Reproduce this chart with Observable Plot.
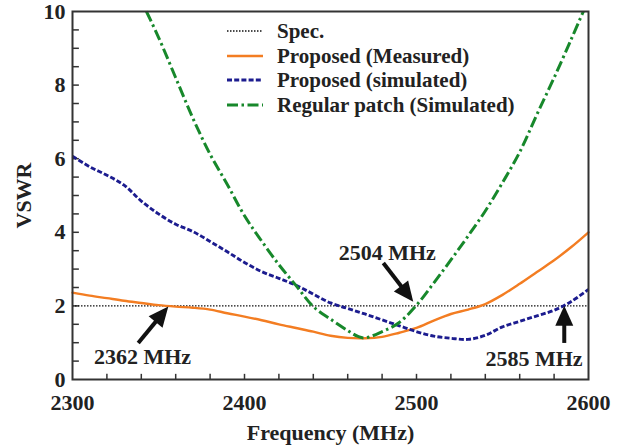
<!DOCTYPE html>
<html><head><meta charset="utf-8">
<script src="https://cdn.jsdelivr.net/npm/d3@7"></script>
<script src="https://cdn.jsdelivr.net/npm/@observablehq/plot@0.6"></script>
<style>
body{margin:0;background:#fff;}
#wrap{position:relative;width:620px;height:446px;font-family:"Liberation Serif","Tinos","Times New Roman","DejaVu Serif",serif;font-weight:bold;}
#legend{position:absolute;left:227px;top:19px;}
.row{display:flex;align-items:center;height:24.5px;line-height:24.5px;font-size:21px;color:#222;white-space:nowrap;}
.row svg{width:36px;height:10px;margin-right:14px;flex:none;}
</style></head><body><div id="wrap"><div id="chart"></div><div id="legend"></div></div>
<script>
// Frequency grid (MHz)
const freq = [2300,2310,2320,2330,2340,2350,2360,2370,2380,2390,2400,2410,2420,2430,2440,2450,2460,2470,2480,2490,2500,2510,2520,2530,2540,2550,2560,2570,2580,2590,2600];
// Proposed (Measured)
const measured = [2.36,2.28,2.21,2.14,2.08,2.02,1.98,1.95,1.90,1.80,1.71,1.61,1.50,1.40,1.30,1.19,1.13,1.12,1.16,1.27,1.40,1.60,1.78,1.90,2.05,2.30,2.60,2.92,3.24,3.60,4.00];
// Proposed (simulated)
const simulated = [6.07,5.78,5.55,5.28,4.85,4.50,4.22,4.02,3.75,3.47,3.18,2.93,2.75,2.56,2.32,2.08,1.93,1.78,1.62,1.46,1.30,1.18,1.12,1.09,1.20,1.43,1.58,1.73,1.88,2.12,2.45];
// Regular patch (Simulated)
const regFreq = [2343,2350,2360,2370,2380,2390,2400,2410,2420,2430,2440,2450,2460,2466,2470,2480,2490,2500,2510,2520,2530,2540,2550,2560,2570,2580,2590,2597];
const regular = [10.0,9.3,8.2,7.1,6.12,5.3,4.45,3.76,3.12,2.55,1.98,1.64,1.33,1.17,1.13,1.30,1.55,2.02,2.62,3.25,3.90,4.58,5.35,6.18,7.20,8.20,9.25,10.0];
const specValue = 2;
const xTicks = [2300,2400,2500,2600];
const xMinor = [2320,2340,2360,2380,2400,2420,2440,2460,2480,2500,2520,2540,2560,2580];
const yTicks = [0,2,4,6,8,10];
const yMinor = [0.5,1,1.5,2,2.5,3,3.5,4,4.5,5,5.5,6,6.5,7,7.5,8,8.5,9,9.5];
const annotLabels = ["2362 MHz","2504 MHz","2585 MHz"];
const annotX = [2340.7,2483,2568.3];
const annotY = [0.62,3.44,0.55];
const arrowX1 = [2338.5,2481,2586.2], arrowY1 = [0.98,3.15,0.98];
const arrowX2 = [2356,2498.4,2586.2], arrowY2 = [1.97,2.1,1.99];
const seriesNames = ["Spec.","Proposed (Measured)","Proposed (simulated)","Regular patch (Simulated)"];
const colors = ["#111111","#f37d22","#1c1c8f","#17882b"];
const dashes = ["1.5,1.5",null,"5,2.2","11,3.5,2.5,3.5"];
const widths = [1.3,2.4,2.9,3.0];

const serif = "'Liberation Serif', Tinos, 'Times New Roman', 'DejaVu Serif', serif";
const mk = (xs, ys) => xs.map((x,i)=>({x, y: ys[i]}));
const annots = annotLabels.map((t,i)=>({text:t, x:annotX[i], y:annotY[i]}));
const arrows = arrowX1.map((_,i)=>({x1:arrowX1[i],y1:arrowY1[i],x2:arrowX2[i],y2:arrowY2[i]}));

function arrowMark(index, scales) {
  const g = d3.create("svg:g");
  for (const a of arrows) {
    const x1 = scales.x(a.x1), y1 = scales.y(a.y1), x2 = scales.x(a.x2), y2 = scales.y(a.y2);
    const ang = Math.atan2(y2-y1, x2-x1), L = 20, W = 9;
    const bx = x2 - L*Math.cos(ang), by = y2 - L*Math.sin(ang);
    const px = -Math.sin(ang)*W, py = Math.cos(ang)*W;
    g.append("line").attr("x1",x1).attr("y1",y1).attr("x2",bx+Math.cos(ang)*2).attr("y2",by+Math.sin(ang)*2)
      .attr("stroke","#111").attr("stroke-width",4);
    g.append("path").attr("d",`M${x2},${y2}L${bx+px},${by+py}L${bx-px},${by-py}Z`).attr("fill","#111");
  }
  return g.node();
}

const chart = Plot.plot({
  width: 620, height: 446,
  marginTop: 11, marginBottom: 67, marginLeft: 72, marginRight: 32,
  style: {fontFamily: serif, fontWeight: "bold", fontSize: "22px", color: "#222", background: "white", overflow: "visible"},
  x: {domain: [2300, 2600]},
  y: {domain: [0, 10]},
  marks: [
    Plot.ruleX(xMinor, {y1: 0, y2: 0.14, stroke: "#333", strokeWidth: 1.5}),
    Plot.ruleY(yMinor, {x1: 2300, x2: 2304, stroke: "#333", strokeWidth: 1.5}),
    Plot.axisX({ticks: xTicks, tickFormat: d3.format("d"), tickSize: 0, tickPadding: 15, fontSize: 22, fontFamily: serif, label: "Frequency (MHz)", labelAnchor: "center", labelOffset: 60, labelArrow: "none"}),
    Plot.axisY({ticks: yTicks, tickFormat: d3.format("d"), tickSize: 0, tickPadding: 7, fontSize: 22, fontFamily: serif, label: "VSWR", labelAnchor: "center", labelOffset: 57, labelArrow: "none"}),
    Plot.ruleY([specValue], {x1: 2300, x2: 2600, stroke: colors[0], strokeWidth: widths[0], strokeDasharray: dashes[0]}),
    Plot.line(mk(freq, measured), {x: "x", y: "y", stroke: colors[1], strokeWidth: widths[1], curve: "catmull-rom"}),
    Plot.line(mk(freq, simulated), {x: "x", y: "y", stroke: colors[2], strokeWidth: widths[2], strokeDasharray: dashes[2], strokeLinecap: "butt", curve: "catmull-rom"}),
    Plot.line(mk(regFreq, regular), {x: "x", y: "y", stroke: colors[3], strokeWidth: widths[3], strokeDasharray: dashes[3], strokeLinecap: "butt", curve: "catmull-rom"}),
    Plot.frame({stroke: "#333", strokeWidth: 2}),
    arrowMark,
    Plot.text(annots, {x: "x", y: "y", text: "text", fontSize: 22, fontWeight: "bold", fontFamily: serif, fill: "#222", textAnchor: "middle", lineAnchor: "middle"})
  ]
});
document.getElementById("chart").appendChild(chart);

const legend = document.getElementById("legend");
seriesNames.forEach((name, i) => {
  const row = document.createElement("div");
  row.className = "row";
  row.innerHTML = `<svg viewBox="0 0 36 10"><line x1="0" y1="5" x2="36" y2="5" stroke="${colors[i]}" stroke-width="${widths[i]}" ${dashes[i] ? `stroke-dasharray="${dashes[i]}"` : ""}/></svg><span>${name}</span>`;
  legend.appendChild(row);
});
</script>
</body></html>
